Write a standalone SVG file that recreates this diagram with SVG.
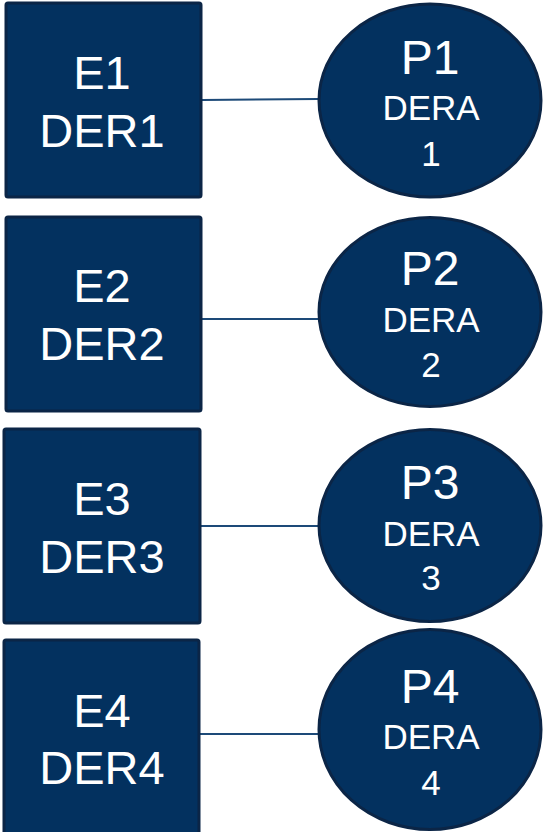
<svg xmlns="http://www.w3.org/2000/svg" width="546" height="832" viewBox="0 0 546 832">
<style>
.box{fill:#03315F;stroke:#0B2546;stroke-width:3}
.ell{fill:#03315F;stroke:#0B2546;stroke-width:3}
.conn{stroke:#1D4A78;stroke-width:2;fill:none}
text{font-family:"Liberation Sans",Arial,sans-serif;fill:#FFFFFF;text-anchor:middle}
.big{font-size:47px}
.pbig{font-size:48px}
.small{font-size:35px}
</style>
<rect width="546" height="832" fill="#FFFFFF"/>
<g id="connectors">
<line class="conn" x1="202" y1="100" x2="318" y2="99"/>
<line class="conn" x1="202" y1="319" x2="318" y2="319"/>
<line class="conn" x1="201" y1="526" x2="318" y2="526"/>
<line class="conn" x1="200" y1="734" x2="318" y2="734"/>
</g>
<g id="E1"><rect class="box" x="6" y="3" width="195" height="194" rx="2"/><text class="big" x="102" y="89">E1</text><text class="big" x="102" y="147">DER1</text></g>
<g id="E2"><rect class="box" x="6" y="217" width="195" height="194" rx="2"/><text class="big" x="102" y="302">E2</text><text class="big" x="102" y="360">DER2</text></g>
<g id="E3"><rect class="box" x="4" y="429" width="196" height="194" rx="2"/><text class="big" x="102" y="515">E3</text><text class="big" x="102" y="573">DER3</text></g>
<g id="E4"><rect class="box" x="4" y="640" width="195" height="196" rx="2"/><text class="big" x="102" y="727">E4</text><text class="big" x="102" y="784">DER4</text></g>
<g id="P1"><ellipse class="ell" cx="430" cy="100.5" rx="111" ry="96.5"/><text class="pbig" x="430" y="74">P1</text><text class="small" x="431" y="120">DERA</text><text class="small" x="431" y="166">1</text></g>
<g id="P2"><ellipse class="ell" cx="430" cy="312" rx="111" ry="94.5"/><text class="pbig" x="430" y="285">P2</text><text class="small" x="431" y="332">DERA</text><text class="small" x="431" y="377">2</text></g>
<g id="P3"><ellipse class="ell" cx="430" cy="525.5" rx="111" ry="96"/><text class="pbig" x="430" y="499">P3</text><text class="small" x="431" y="546">DERA</text><text class="small" x="431" y="590">3</text></g>
<g id="P4"><ellipse class="ell" cx="430" cy="729.5" rx="111" ry="100"/><text class="pbig" x="430" y="703">P4</text><text class="small" x="431" y="749">DERA</text><text class="small" x="431" y="795">4</text></g>
</svg>
